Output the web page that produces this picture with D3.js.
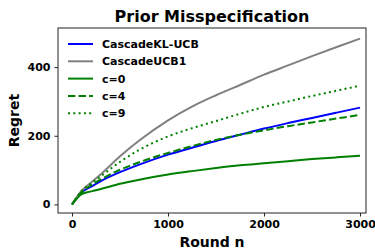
<!DOCTYPE html>
<html>
<head>
<meta charset="utf-8">
<script src="https://cdn.jsdelivr.net/npm/d3@7"></script>
<style>
  body { margin: 0; background: #fff; }
  #chart { width: 375px; height: 250px; }
  text { font-family: "DejaVu Sans", sans-serif; font-weight: bold; }
</style>
</head>
<body>
<div id="chart"></div>
<script>
// rounds (x values)
var rounds = [0, 100, 200, 300, 500, 700, 1000, 1250, 1500, 1750, 2000, 2250, 2500, 2750, 3000];

// regret
var klUcb  = [0, 35, 52, 68, 94, 116, 145, 165, 185, 203, 221, 237, 252, 267, 282];
var ucb1   = [0, 40, 64, 88, 140, 186, 245, 285, 318, 348, 378, 405, 432, 458, 483];
var c0     = [0, 30, 38, 45, 60, 72, 87, 97, 106, 114, 120, 126, 132, 137, 142];
var c4     = [0, 36, 56, 73, 101, 123, 150, 170, 188, 203, 216, 228, 239, 250, 261];
var c9     = [0, 39, 61, 82, 124, 159, 198, 222, 243, 264, 284, 300, 316, 331, 346];

var xTicks = [0, 1000, 2000, 3000];
var yTicks = [0, 200, 400];

var seriesNames = ["CascadeKL-UCB", "CascadeUCB1", "c=0", "c=4", "c=9"];
var seriesData = [klUcb, ucb1, c0, c4, c9];
var seriesColor = ["#0000ff", "#808080", "#008000", "#008000", "#008000"];
var seriesDash = [null, null, null, "7.4,3.2", "2,3.3"];

var width = 375, height = 250;
var margin = { top: 28, right: 9, bottom: 37, left: 58 };
var innerW = width - margin.left - margin.right;
var innerH = height - margin.top - margin.bottom;

var svg = d3.select("#chart")
            .append("svg")
            .attr("width", width)
            .attr("height", height);

var g = svg.append("g")
           .attr("transform", "translate(" + margin.left + "," + margin.top + ")");

var scaleX = d3.scaleLinear()
               .domain([-146, 3062])
               .range([0, innerW]);

var scaleY = d3.scaleLinear()
               .domain([-25, 514])
               .range([innerH, 0]);

var line = d3.line()
             .x(function(d) { return scaleX(d.n); })
             .y(function(d) { return scaleY(d.r); })
             .curve(d3.curveMonotoneX);

// lines
seriesData.forEach(function(vals, i) {
  var pts = rounds.map(function(n, j) { return { n: n, r: vals[j] }; });
  g.append("path")
   .datum(pts)
   .attr("fill", "none")
   .attr("stroke", seriesColor[i])
   .attr("stroke-width", 2)
   .attr("stroke-dasharray", seriesDash[i])
   .attr("d", line);
});

// frame
g.append("rect")
 .attr("width", innerW)
 .attr("height", innerH)
 .attr("fill", "none")
 .attr("stroke", "#222")
 .attr("stroke-width", 1);

// axes
var xAxis = g.append("g")
             .attr("transform", "translate(0," + innerH + ")")
             .call(d3.axisBottom(scaleX).tickValues(xTicks).tickSize(3.5).tickPadding(4).tickFormat(d3.format("d")));

var yAxis = g.append("g")
             .call(d3.axisLeft(scaleY).tickValues(yTicks).tickSize(3.5).tickPadding(4).tickFormat(d3.format("d")));

[xAxis, yAxis].forEach(function(a) {
  a.select(".domain").remove();
  a.selectAll("text")
   .attr("fill", "#000")
   .style("font-size", "11px")
   .style("font-family", "DejaVu Sans")
   .style("font-weight", "bold");
  a.selectAll("line").attr("stroke", "#222");
});

// title and labels
svg.append("text")
   .attr("x", margin.left + innerW / 2)
   .attr("y", 22)
   .attr("text-anchor", "middle")
   .style("font-size", "16px")
   .text("Prior Misspecification");

svg.append("text")
   .attr("x", margin.left + innerW / 2)
   .attr("y", 247)
   .attr("text-anchor", "middle")
   .style("font-size", "14px")
   .text("Round n");

svg.append("text")
   .attr("transform", "translate(19," + (margin.top + innerH / 2) + ") rotate(-90)")
   .attr("text-anchor", "middle")
   .style("font-size", "14px")
   .text("Regret");

// legend
var legend = g.append("g")
              .attr("transform", "translate(10,16)");

seriesNames.forEach(function(name, i) {
  var row = legend.append("g")
                  .attr("transform", "translate(0," + (i * 17.3) + ")");
  row.append("line")
     .attr("x1", 0).attr("x2", 25)
     .attr("y1", 0).attr("y2", 0)
     .attr("stroke", seriesColor[i])
     .attr("stroke-width", 2)
     .attr("stroke-dasharray", seriesDash[i]);
  row.append("text")
     .attr("x", 34)
     .attr("y", 4)
     .style("font-size", "11px")
     .text(name);
});
</script>
</body>
</html>
